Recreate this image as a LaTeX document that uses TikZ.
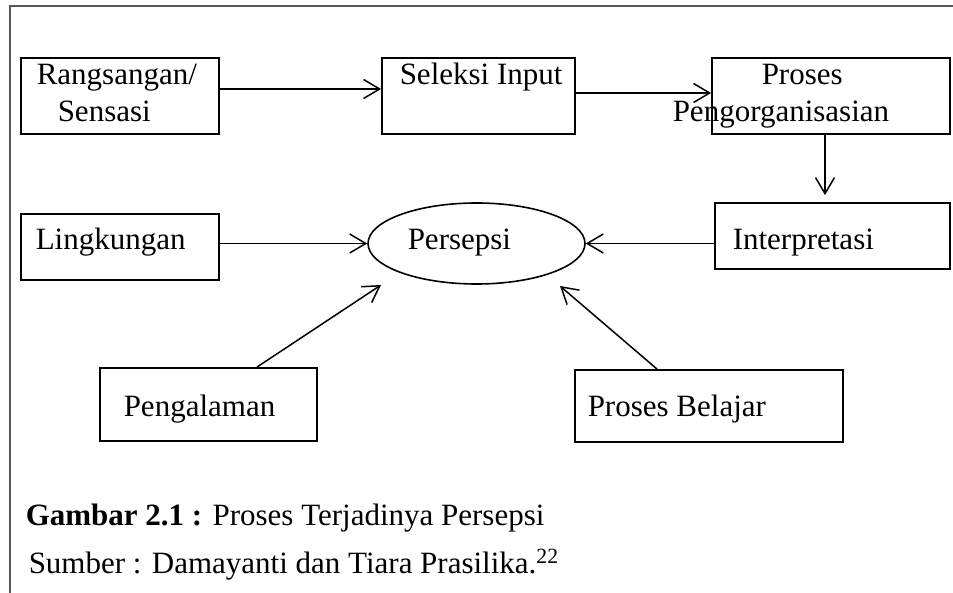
\documentclass[tikz,border=0pt]{standalone}
\usepackage{fontspec}
\setmainfont{Liberation Serif}
\usepackage{tikz}
\usetikzlibrary{
  arrows.meta,
  shapes.geometric,
  calc
}
\tikzset{
  ->,
  >={Straight Barb[length=16pt,width=19pt]},
  box/.style={draw, line width=1.9pt, inner sep=0pt},
  oval/.style={ellipse, draw, line width=1.6pt, inner sep=0pt},
  txt/.style={anchor=base west, inner sep=0pt},
  frame/.style={-, draw=black!65, line width=1.6pt}
}

\begin{document}
\begin{tikzpicture}[x=1pt, y=-1pt, line width=1.5pt, font=\fontsize{31}{36}\selectfont]
    \useasboundingbox (0,0) rectangle (953,593);
    \draw[frame] (10,593) -- (10,6) -- (953,6);

    % kotak
    \node[box, minimum width=198pt, minimum height=76pt] (rangsangan)   at (120,96)    {};
    \node[box, minimum width=193pt, minimum height=76pt] (seleksi)      at (478.5,96)  {};
    \node[box, minimum width=238pt, minimum height=76pt] (proses)       at (831,96)    {};
    \node[box, minimum width=235pt, minimum height=66pt] (interpretasi) at (832.5,236) {};
    \node[box, minimum width=198pt, minimum height=66pt] (lingkungan)   at (120,247)   {};
    \node[oval, minimum width=217pt, minimum height=81pt] (persepsi)    at (476.5,243.5) {};
    \node[box, minimum width=217pt, minimum height=73pt] (pengalaman)   at (208.5,404.5) {};
    \node[box, minimum width=268pt, minimum height=72pt] (belajar)      at (709,406)   {};

    % teks
    \node[txt] (t1a) at (36,85)   {Rangsangan/};
    \node[txt] (t1b) at (57,122)  {Sensasi};
    \node[txt] (t2)  at (399,85)  {Seleksi Input};
    \node[txt] (t3a) at (761,85)  {Proses};
    \node[txt] (t3b) at (672,122) {Pengorganisasian};
    \node[txt] (t4)  at (732,250) {Interpretasi};
    \node[txt] (t5)  at (35,250)  {Lingkungan};
    \node[txt] (t6)  at (407,250) {Persepsi};
    \node[txt] (t7)  at (123,417) {Pengalaman};
    \node[txt] (t8)  at (587,417) {Proses Belajar};

    \coordinate (pengalaman tip) at (381,285);
    \coordinate (belajar tip)    at (560,286);

    \draw ([yshift=7pt]rangsangan.east) -- ([yshift=7pt]rangsangan.east -| seleksi.west);
    \draw ([yshift=3pt]seleksi.east) -- ([yshift=3pt]seleksi.east -| proses.west);
    \draw[shorten >=7pt] ([xshift=-6pt]proses.south) -- ([xshift=-6pt]proses.south |- interpretasi.north);
    \draw (lingkungan.east |- persepsi.west) -- (persepsi.west);
    \draw (interpretasi.west |- persepsi.east) -- (persepsi.east);
    \draw ([xshift=48.5pt]pengalaman.north) -- (pengalaman tip);
    \draw ([xshift=-52pt]belajar.north) -- (belajar tip);

    % keterangan
    \node[txt] (gambar) at (25,525) {\textbf{Gambar 2.1 :} Proses Terjadinya Persepsi};
    \node[txt] (sumber) at (28,573) {Sumber : Damayanti dan Tiara Prasilika.\textsuperscript{22}};
\end{tikzpicture}
\end{document}
